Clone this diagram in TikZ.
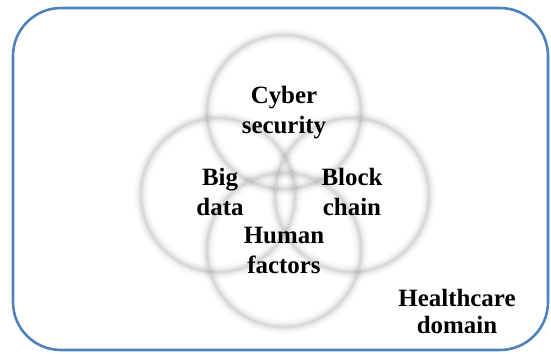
\documentclass[tikz,border=0pt]{standalone}
\usepackage{fontspec}
\setmainfont{Liberation Serif}
\usepackage{tikz}

\definecolor{domainblue}{RGB}{79,129,189}

\begin{document}
\begin{tikzpicture}[x=1bp,y=-1bp,
    domainbox/.style={draw=domainblue,line width=2.6bp,rounded corners=48bp},
    label/.style={font=\bfseries\fontsize{25}{30}\selectfont,align=center,inner sep=0pt,anchor=base}]
            \useasboundingbox (0,0) rectangle (551,354);

            % healthcare domain frame
            \draw[domainbox] (13,8) rectangle (548,350);

            % the four soft rings
            \foreach \cx/\cy in {284/112, 218/195, 352/195, 284/250}{
                \foreach \w/\o in {14/0.02, 10/0.025, 7/0.03, 4.5/0.035, 2.5/0.04}
                    \draw[black,opacity=\o,line width=\w bp] (\cx,\cy) circle[radius=77bp];
                \draw[black!16,line width=0.8bp] (\cx,\cy) circle[radius=77bp];
            }

            % labels (anchor is the baseline of the last line)
            \node[label] (cyber) at (284,133) {Cyber\\security};
            \node[label] (bigdata) at (220,215) {Big\\data};
            \node[label] (block) at (352,215) {Block\\chain};
            \node[label] (human) at (284,273) {Human\\factors};
            \node[label,font=\bfseries\fontsize{25}{27}\selectfont] (domain) at (457,333) {Healthcare\\domain};
\end{tikzpicture}
\end{document}
